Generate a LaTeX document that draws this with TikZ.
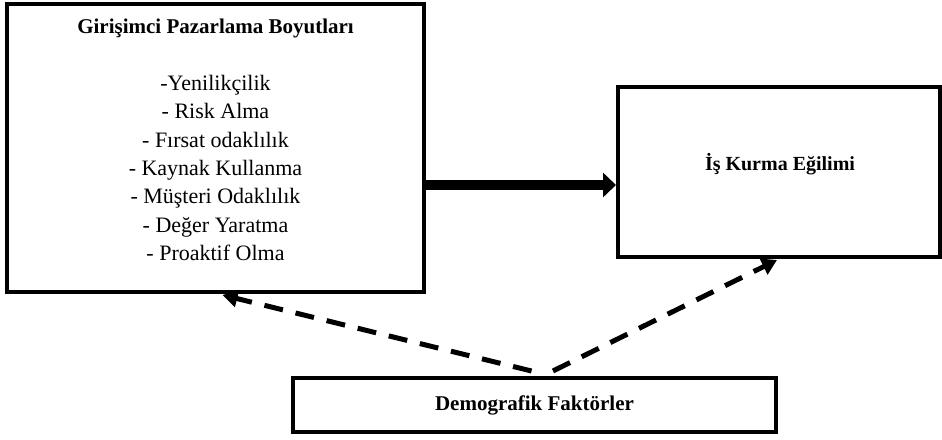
\documentclass[tikz,border=0pt]{standalone}
\usepackage{fontspec}
\setmainfont{Liberation Serif}
\usetikzlibrary{arrows.meta}
\tikzset{
  box/.style={draw, line width=4pt, rectangle, inner sep=0pt, fill=white},
  title/.style={font=\fontsize{21}{25}\selectfont\bfseries, inner sep=0pt},
  items/.style={font=\fontsize{22}{28.3}\selectfont, align=center, inner sep=0pt},
  mainarrow/.style={line width=10pt, -{Triangle[length=13pt,width=24pt]}},
  dasharrow/.style={line width=5pt, dash pattern=on 19pt off 13pt, -{Triangle[length=15pt,width=17pt]}},
}
\begin{document}
\begin{tikzpicture}[x=1pt,y=-1pt]
\useasboundingbox[fill=white] (0,0) rectangle (942,439);
\node[box, minimum width=417pt, minimum height=288pt] (L) at (215.5,148) {};
\node[box, minimum width=322pt, minimum height=170pt] (R) at (779,172) {};
\node[box, minimum width=483pt, minimum height=54pt] (D) at (534.5,405) {};
\node[title] (Lt) at (215.5,28) {Girişimci Pazarlama Boyutları};
\node[items] (Ll) at (215.5,168) {-Yenilikçilik\\- Risk Alma\\- Fırsat odaklılık\\- Kaynak Kullanma\\- Müşteri Odaklılık\\- Değer Yaratma\\- Proaktif Olma};
\node[title, font=\fontsize{20}{24}\selectfont\bfseries] (Rt) at (780,164) {İş Kurma Eğilimi};
\node[title] (Dt) at (534.5,405) {Demografik Faktörler};
\draw[mainarrow] ([yshift=-37pt]L.east) -- ([yshift=-13pt]R.west);
\draw[dasharrow] ([xshift=-3pt,yshift=5pt]D.north) -- ([xshift=7pt,yshift=-1pt]L.south);
\draw[dasharrow] ([xshift=18.5pt,yshift=5pt]D.north) -- ([xshift=-2pt,yshift=-1pt]R.south);
\end{tikzpicture}
\end{document}
